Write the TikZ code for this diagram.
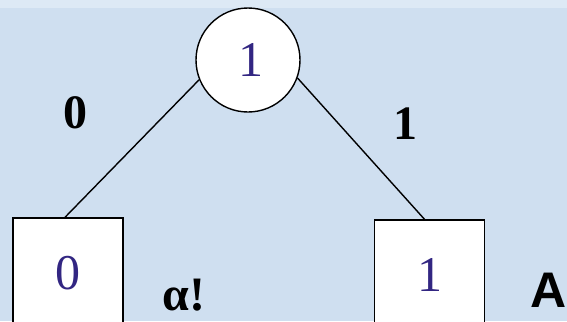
\documentclass[tikz,border=0pt]{standalone}
\usepackage{fontspec}
\setmainfont{Liberation Serif}
\newfontfamily\arialfont{Liberation Sans}
\definecolor{bgblue}{RGB}{207,223,240}
\definecolor{bgtop}{RGB}{221,233,245}
\definecolor{digit}{RGB}{50,38,130}

\begin{document}
\begin{tikzpicture}[x=0.5pt,y=-0.5pt,
    vertex/.style={circle,draw=black,fill=white,line width=0.7pt,
      minimum size=52pt,inner sep=0pt,text=digit,font=\fontsize{25}{25}\selectfont},
    leaf/.style={rectangle,draw=black,fill=white,line width=0.7pt,
      minimum width=55pt,minimum height=55pt,inner sep=0pt,text=digit,
      font=\fontsize{25}{25}\selectfont},
    bit/.style={inner sep=0pt,font=\fontsize{24}{24}\selectfont\bfseries}]
    \useasboundingbox (0,0) rectangle (567,321);
    \fill[bgblue] (0,0) rectangle (567,321);
    \fill[bgtop] (0,0) rectangle (567,8);
    % the tree
    \node[vertex] (root) at (248,60) {\raisebox{-2.5pt}{\hspace{3pt}1}};
    \node[leaf] (zero) at (68,273) {0};
    \node[leaf] (one) at (429.5,275) {1};
    \draw[line width=0.7pt] (root.202) -- ([xshift=-1.5pt]zero.north);
    \draw[line width=0.7pt] (root.-20) -- ([xshift=-2.5pt]one.north);
    % edge bits and leaf notes
    \node[bit] (b0) at (75,113) {0};
    \node[bit] (b1) at (405,124) {1};
    \node[bit,anchor=base] (alpha) at (184,310) {α!};
    \node[inner sep=0pt,font=\fontsize{25}{25}\selectfont\arialfont\bfseries]
      (a) at (549,290) {A};
\end{tikzpicture}
\end{document}
